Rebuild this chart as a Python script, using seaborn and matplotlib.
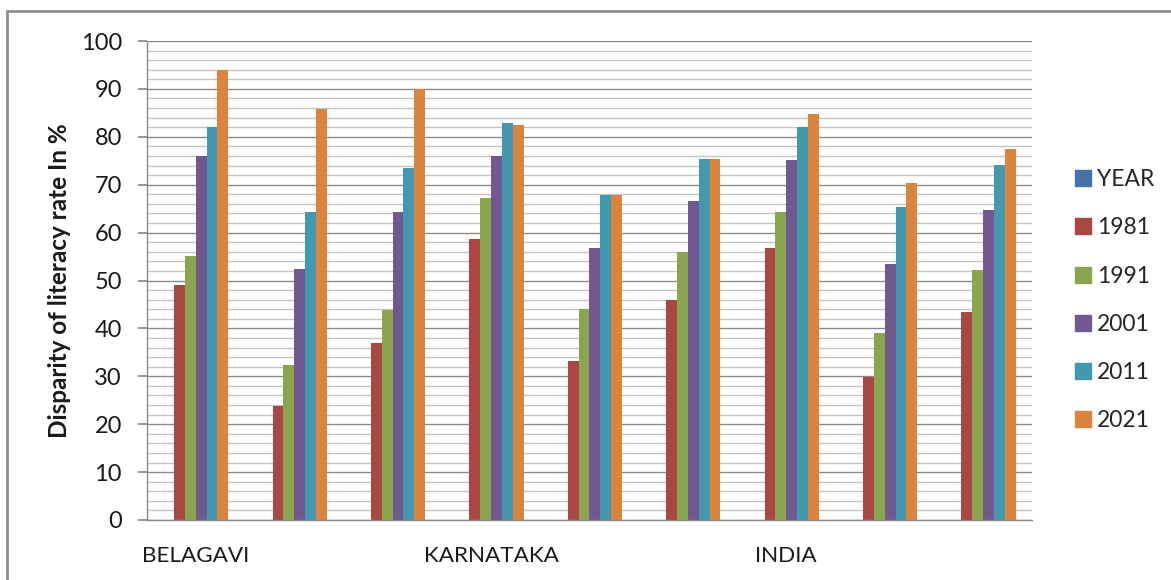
import matplotlib.pyplot as plt
import matplotlib.lines as mlines
import matplotlib.patches as mpatches
import numpy as np
import pandas as pd
import seaborn as sns

# values (the YEAR series has no values)
groups = ["c1", "c2", "c3", "c4", "c5", "c6", "c7", "c8", "c9"]
tick_labels = ["BELAGAVI", "", "", "KARNATAKA", "", "", "INDIA", "", ""]
series = ["YEAR", "1981", "1991", "2001", "2011", "2021"]
year = [np.nan] * 9
y1981 = [49.0, 23.8, 36.9, 58.6, 33.2, 46.0, 56.7, 29.8, 43.4]
y1991 = [55.1, 32.4, 43.9, 67.2, 44.1, 55.9, 64.2, 39.0, 52.1]
y2001 = [76.0, 52.5, 64.4, 76.0, 56.7, 66.6, 75.2, 53.5, 64.7]
y2011 = [82.1, 64.4, 73.5, 82.9, 67.9, 75.4, 82.1, 65.3, 74.1]
y2021 = [93.9, 85.9, 89.9, 82.4, 67.9, 75.4, 84.8, 70.4, 77.5]

colors = ["#4572A7", "#AA4643", "#89A54E", "#71588F", "#4198AF", "#DB843D"]

rows = []
for name, vals in zip(series, [year, y1981, y1991, y2001, y2011, y2021]):
    for g, v in zip(groups, vals):
        rows.append({"group": g, "series": name, "value": v})
df = pd.DataFrame(rows)

sns.set_theme(style="white")
plt.rcParams["font.family"] = ["Lato", "DejaVu Sans"]

W, H = 1171, 580
fig = plt.figure(figsize=(W / 100, H / 100), dpi=100)
ax = fig.add_axes([146.6 / W, 1 - 520 / H, (1032.3 - 146.6) / W, (520 - 41) / H])

sns.barplot(
    data=df, x="group", y="value", hue="series",
    order=groups, hue_order=series, palette=colors,
    width=0.66, linewidth=0, saturation=1, legend=False, ax=ax,
)

ax.set_xlim(-0.5, 8.5)
ax.set_ylim(0, 100)
ax.set_yticks(np.arange(0, 101, 10))
ax.set_yticks(np.arange(0, 101, 2), minor=True)
ax.grid(which="major", axis="y", color="#8a8a8a", linewidth=1.0)
ax.grid(which="minor", axis="y", color="#c4c4c4", linewidth=1.0)
ax.set_axisbelow(True)
for s in ["top", "right"]:
    ax.spines[s].set_visible(False)
for s in ["left", "bottom"]:
    ax.spines[s].set_color("#8a8a8a")
    ax.spines[s].set_linewidth(1.0)

ax.tick_params(axis="y", which="major", left=True, length=6.3, color="#8a8a8a",
               pad=11.5, labelsize=17, labelcolor="#1a1a1a")
ax.tick_params(axis="y", which="minor", left=False)
ax.set_xticks(range(len(groups)))
ax.set_xticklabels(tick_labels)
ax.tick_params(axis="x", bottom=False, pad=13, labelsize=16.2, labelcolor="#1a1a1a")
ax.set_xlabel("")
ax.set_ylabel("Disparity of literacy rate In %", fontsize=17.5, fontweight="bold",
              labelpad=7, color="#1a1a1a")

handles = [mpatches.Patch(color=c, label=s) for c, s in zip(colors, series)]
fig.legend(handles=handles, loc="center left", bbox_to_anchor=(1075 / W, 1 - 300.2 / H),
           frameon=False, fontsize=16.5, handlelength=0.7, handleheight=0.7,
           handletextpad=0.26, labelspacing=1.19, borderpad=0, borderaxespad=0)

# outer chart border
fig.add_artist(mlines.Line2D([7 / W, 1.0], [1 - 11 / H, 1 - 11 / H], color="#8c8c8c", linewidth=2))
fig.add_artist(mlines.Line2D([7 / W, 7 / W], [0, 1 - 11 / H], color="#8c8c8c", linewidth=2))

fig.savefig("out.png", dpi=100)
